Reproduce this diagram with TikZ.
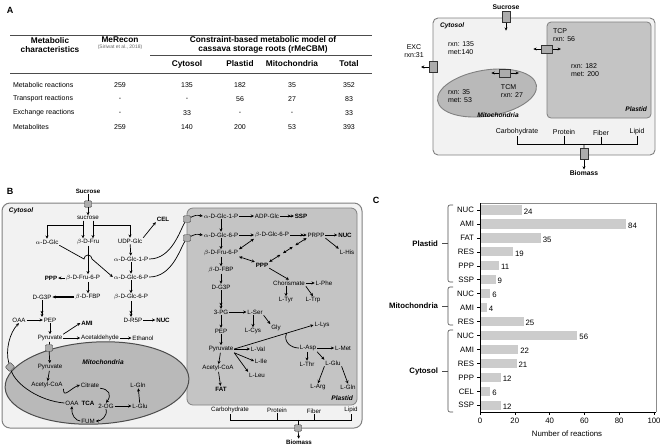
\documentclass[tikz,border=0pt]{standalone}
\usepackage{fontspec}
\setmainfont{Liberation Sans}
\usetikzlibrary{positioning, arrows.meta, shapes.geometric, calc}

\definecolor{cytfill}{HTML}{F2F2F2}
\definecolor{plafill}{HTML}{C4C4C4}
\definecolor{mitfill}{HTML}{B9B9B9}
\definecolor{edgegray}{HTML}{808080}
\definecolor{barfill}{HTML}{CCCCCC}

\begin{document}
\begin{tikzpicture}[x=1pt, y=-1pt]
		\tikzset{
			>={Stealth[length=3.2pt, width=3pt]},
			every node/.style={font=\fontsize{6.2}{7}\selectfont, inner sep=0.8pt},
			tab/.style={font=\fontsize{7}{8}\selectfont},
			tabhead/.style={font=\fontsize{8.3}{9.2}\selectfont\bfseries, align=center},
			modtxt/.style={font=\fontsize{7}{7.8}\selectfont, align=left},
			bold/.style={font=\fontsize{6.2}{7}\selectfont\bfseries},
			comp/.style={font=\fontsize{6.6}{7}\selectfont\bfseries\itshape},
			panel/.style={font=\fontsize{9}{10}\selectfont\bfseries},
			ctxt/.style={font=\fontsize{7.8}{9}\selectfont},
			rxn/.style={->, line width=0.7pt},
			multi/.style={-{Stealth[length=3pt, width=3pt] Stealth[length=3pt, width=3pt]}, line width=0.7pt},
			both/.style={<->, line width=0.7pt},
			tport/.style={draw=black!80, fill=gray!65, rounded corners=1pt, minimum width=7pt, minimum height=6.5pt, inner sep=0pt},
			cylv/.style={cylinder, shape border rotate=90, aspect=0.35, draw=black!80, fill=gray!65, minimum width=7.5pt, minimum height=11pt, inner sep=0pt},
			cylh/.style={cylinder, aspect=0.35, draw=black!80, fill=gray!65, minimum width=7.5pt, minimum height=11pt, inner sep=0pt}
		}
		\useasboundingbox (0,0) rectangle (660,445);
		
		% Panel A: table
		\node[panel] (labA) at (10,10) {A};
		\draw[line width=0.9pt, black!70] (10,35) -- (372,35);
		\node[tabhead] (hChar) at (50,45) {Metabolic\\characteristics};
		\node[tabhead] (hRecon) at (120,40) {MeRecon};
		\node[font=\fontsize{5}{6}\selectfont, text=black!60, below=0pt of hRecon] (hRef) {(Siriwat et al., 2018)};
		\node[tabhead] (hModel) at (263,45) {Constraint-based metabolic model of\\cassava storage roots (rMeCBM)};
		\draw[black!70] (150,55) -- (372,55);
		\node[tabhead] (hCyt) at (187,64) {Cytosol};
		\node[tabhead] (hPla) at (240,64) {Plastid};
		\node[tabhead] (hMit) at (292,64) {Mitochondria};
		\node[tabhead] (hTot) at (349,64) {Total};
		\draw[black!70] (10,73) -- (372,73);
		\foreach \y/\name/\a/\b/\c/\d/\e in {85/Metabolic reactions/259/135/182/35/352, 99/Transport reactions/-/-/56/27/83, 113/Exchange reactions/-/33/-/-/33, 127/Metabolites/259/140/200/53/393}{
			\node[tab, anchor=west] at (12,\y) {\name};
			\node[tab] at (120,\y) {\a};
			\node[tab] at (187,\y) {\b};
			\node[tab] at (240,\y) {\c};
			\node[tab] at (292,\y) {\d};
			\node[tab] at (349,\y) {\e};
		}
		
		% Panel A: compartment model
		\draw[rounded corners=5pt, draw=edgegray, fill=cytfill, line width=0.9pt] (433,18) rectangle (655,155);
		\draw[rounded corners=4pt, draw=edgegray, fill=plafill, line width=0.8pt] (547,22) rectangle (651,118);
		\draw[draw=edgegray, fill=mitfill, line width=0.9pt, rotate around={9:(487,93)}] (487,93) ellipse [x radius=50, y radius=23];
		\node[comp, anchor=west] (cytA) at (439,26) {Cytosol};
		\node[modtxt] (cytNum) at (461,48) {rxn: 135\\met:140};
		\node[modtxt, anchor=north west] (tcpA) at (552,28) {TCP\\rxn: 56};
		\node[modtxt] (plaNum) at (585,70) {rxn: 182\\met: 200};
		\node[comp, anchor=east] (plaA) at (648,109) {Plastid};
		\node[modtxt] (mitNum) at (460,96) {rxn: 35\\met: 53};
		\node[modtxt] (tcmA) at (512,91) {TCM\\rxn: 27};
		\node[comp] (mitA) at (498,115) {Mitochondria};
		\node[modtxt, align=center] (excA) at (414,51) {EXC\\rxn:31};
		
		% transporters
		\node[cylv] (tSucA) at (506,17) {};
		\node[bold, font=\fontsize{6.8}{7}\selectfont\bfseries, above=0.5pt of tSucA] (sucA) {Sucrose};
		\coordinate[below=8pt of tSucA] (sucAin);
		\draw[rxn] (tSucA) -- (sucAin);
		\node[cylh] (tTCP) at (547,49) {};
		\coordinate[left=8pt of tTCP] (tcpL);
		\coordinate[right=8pt of tTCP] (tcpR);
		\draw[rxn] (tTCP) -- (tcpL);
		\draw[rxn] (tTCP) -- (tcpR);
		\node[cylh] (tTCM) at (505,73) {};
		\coordinate[left=8pt of tTCM] (tcmL);
		\coordinate[right=8pt of tTCM] (tcmR);
		\draw[rxn] (tTCM) -- (tcmL);
		\draw[rxn] (tTCM) -- (tcmR);
		\node[cylv] (tEXC) at (433,67) {};
		\coordinate[left=8pt of tEXC] (excOut);
		\draw[rxn] (tEXC) -- (excOut);
		
		% biomass
		\node[modtxt] (carbA) at (517,132) {Carbohydrate};
		\node[modtxt] (protA) at (564,132) {Protein};
		\node[modtxt] (fibA) at (601,133) {Fiber};
		\node[modtxt] (lipA) at (637,132) {Lipid};
		\node[cylv] (tBioA) at (584,154) {};
		\node[bold, font=\fontsize{6.8}{7}\selectfont\bfseries] (bioA) at (584,173) {Biomass};
		\draw[line width=0.7pt] (carbA.south) -- ++(0,8) coordinate (brA) -| (lipA.south);
		\draw[line width=0.7pt] (protA.south) -- (protA.south |- brA);
		\draw[line width=0.7pt] (fibA.south) -- (fibA.south |- brA);
		\draw[line width=0.7pt] (brA -| tBioA) -- (tBioA);
		\draw[rxn] (tBioA) -- (bioA);
		
		% Panel B: compartments
		\node[panel] (labB) at (10,191) {B};
		\draw[rounded corners=8pt, draw=edgegray, fill=cytfill, line width=1pt] (2,203) rectangle (362,428);
		\draw[rounded corners=6pt, draw=edgegray, fill=plafill, line width=0.8pt] (187,208) rectangle (357,405);
		\draw[draw=gray!60!black, fill=mitfill, line width=1pt, rotate around={3:(97,383)}] (97,383) ellipse [x radius=92, y radius=41];
		\node[comp, anchor=west] (cytB) at (8,211) {Cytosol};
		\node[comp] (mitB) at (103,362) {Mitochondria};
		\node[comp, anchor=east] (plaB) at (354,398) {Plastid};
		
		% cytosol metabolites
		\node[bold] (sucB) at (88,191) {Sucrose};
		\node[tport] (tSuc) at (88,204) {};
		\node (suc) at (88,218) {sucrose};
		\node (glc) at (47,242) {$\alpha$-D-Glc};
		\node (fru) at (88,242) {$\beta$-D-Fru};
		\node (udpg) at (130,241) {UDP-Glc};
		\node[bold] (cel) at (163,219) {CEL};
		\node (g1p) at (131,259) {$\alpha$-D-Glc-1-P};
		\node (g6p) at (131,277) {$\alpha$-D-Glc-6-P};
		\node (f6p) at (83,278) {$\beta$-D-Fru-6-P};
		\node[bold] (pppC) at (51,278) {PPP};
		\node (fbp) at (88,297) {$\beta$-D-FBP};
		\node (g3p) at (42,297) {D-G3P};
		\node (bg6p) at (131,297) {$\beta$-D-Glc-6-P};
		\node (oaaC) at (19,320) {OAA};
		\node (pepC) at (50,320) {PEP};
		\node[bold] (amiC) at (87,323) {AMI};
		\node (r5p) at (133,320) {D-R5P};
		\node[bold] (nucC) at (163,320) {NUC};
		\node (pyrC) at (50,338) {Pyruvate};
		\node (acald) at (100,338) {Acetaldehyde};
		\node (etoh) at (143,338) {Ethanol};
		
		% mitochondria metabolites
		\node[tport] (tPyr) at (49,348) {};
		\node (pyrM) at (50,367) {Pyruvate};
		\node (accoaM) at (47,385) {Acetyl-CoA};
		\node (cit) at (90,385) {Citrate};
		\node (glnM) at (138,385) {L-Gln};
		\node (oaaM) at (72,403) {OAA};
		\node[bold] (tca) at (88,403) {TCA};
		\node (og) at (106,406) {2-OG};
		\node (gluM) at (140,406) {L-Glu};
		\node (fum) at (88,421) {FUM};
		\node[tport, rotate=45] (tOaa) at (10,367) {};
		
		% plastid metabolites
		\node[tport] (tG1p) at (187,219) {};
		\node[tport] (tG6p) at (187,238) {};
		\node (g1pP) at (221,216) {$\alpha$-D-Glc-1-P};
		\node (adpg) at (267,216) {ADP-Glc};
		\node[bold] (sspP) at (301,216) {SSP};
		\node (g6pP) at (221,235) {$\alpha$-D-Glc-6-P};
		\node (bg6pP) at (272,235) {$\beta$-D-Glc-6-P};
		\node (prpp) at (316,235) {PRPP};
		\node[bold] (nucP) at (345,235) {NUC};
		\node (f6pP) at (221,253) {$\beta$-D-Fru-6-P};
		\node[bold] (pppP) at (262,265) {PPP};
		\node (his) at (347,252) {L-His};
		\node (fbpP) at (221,270) {$\beta$-D-FBP};
		\node (chor) at (289,283) {Chorismate};
		\node (phe) at (324,283) {L-Phe};
		\node (g3pP) at (221,287) {D-G3P};
		\node (tyr) at (286,300) {L-Tyr};
		\node (trp) at (313,300) {L-Trp};
		\node (pg3) at (221,312) {3-PG};
		\node (ser) at (255,312) {L-Ser};
		\node (pepP) at (221,331) {PEP};
		\node (cys) at (253,331) {L-Cys};
		\node (gly) at (276,328) {Gly};
		\node (lys) at (322,325) {L-Lys};
		\node (pyrP) at (221,349) {Pyruvate};
		\node (val) at (258,349) {L-Val};
		\node (asp) at (308,348) {L-Asp};
		\node (met) at (343,348) {L-Met};
		\node (ile) at (261,361) {L-Ile};
		\node (thr) at (307,364) {L-Thr};
		\node (gluP) at (333,363) {L-Glu};
		\node (accoaP) at (218,368) {Acetyl-CoA};
		\node (leu) at (257,375) {L-Leu};
		\node[bold] (fat) at (221,389) {FAT};
		\node (arg) at (318,387) {L-Arg};
		\node (glnP) at (348,387) {L-Gln};
		
		% cytosol reactions
		\draw[line width=0.7pt] (sucB) -- (tSuc);
		\draw[rxn] (tSuc) -- (suc);
		\draw[rxn] ([xshift=-5pt]suc.south) -- ([xshift=-5pt]fru.north);
		\draw[rxn] ([xshift=-5pt]suc.south) -- ++(0,5) -| (glc.north);
		\draw[rxn] ([xshift=5pt]suc.south) -- ([xshift=5pt]fru.north);
		\draw[rxn] ([xshift=5pt]suc.south) -- ++(0,5) -| (udpg.north);
		\draw[rxn] (udpg.north east) -- (cel.south west);
		\draw[rxn] (udpg) -- (g1p);
		\draw[rxn] (g1p) -- (g6p);
		\draw[rxn] (g6p) -- (bg6p);
		\draw[multi] (bg6p.south) -- (bg6p.south |- r5p.north);
		\draw[rxn] (r5p) -- (nucC);
		\draw[rxn] (glc.south east) -- (84,259) arc[start angle=180, end angle=360, radius=4] -- (g6p.west);
		\draw[rxn] (fru.south) -- (fru.south |- f6p.north);
		\draw[rxn] (f6p) -- (pppC);
		\draw[rxn] (f6p.south -| fbp) -- (fbp);
		\draw[->, line width=1.3pt] (fbp) -- (g3p);
		\draw[multi] (g3p.south) -- (g3p.south |- pepC.north);
		\draw[rxn] (oaaC) -- (pepC);
		\draw[rxn] (pepC) -- (pyrC);
		\draw[rxn] (pyrC.north east) -- (amiC.west);
		\draw[rxn] (pyrC) -- (acald);
		\draw[rxn] (acald) -- (etoh);
		
		% transport into plastid
		\draw[line width=0.7pt] (g1p.east) .. controls (172,259) and (180,230) .. (tG1p);
		\draw[line width=0.7pt] (g6p.east) .. controls (172,277) and (180,249) .. (tG6p);
		\draw[rxn] (tG1p) .. controls (196,215) .. (g1pP.west);
		\draw[rxn] (tG6p) .. controls (196,234) .. (g6pP.west);
		
		% mitochondria reactions
		\draw[line width=0.7pt] (pyrC) -- (tPyr);
		\draw[rxn] (tPyr) -- (pyrM);
		\draw[rxn] (pyrM) -- (accoaM);
		\draw[rxn] (accoaM.south east) .. controls (63,399) and (71,388) .. (cit.west);
		\draw[rxn] (cit.south east) .. controls (109,389) and (112,395) .. (og.north);
		\draw[rxn] (og.south) .. controls (108,416) and (101,421) .. (fum.east);
		\draw[rxn] (fum.west) .. controls (76,421) and (71,415) .. (oaaM.south);
		\draw[rxn] (og) -- (gluM);
		\draw[rxn] (gluM) -- (glnM);
		\draw[line width=0.7pt] (oaaM.west) .. controls (40,401) and (16,385) .. (tOaa);
		\draw[rxn] (tOaa) .. controls (5,350) and (10,332) .. (oaaC.south);
		
		% plastid reactions
		\draw[rxn] (g1pP) -- (adpg);
		\draw[multi] (adpg) -- (sspP);
		\draw[rxn] (g1pP) -- (g6pP);
		\draw[rxn] (g6pP) -- (bg6pP);
		\draw[multi] (bg6pP) -- (prpp);
		\draw[rxn] (prpp) -- (nucP);
		\draw[rxn] (g6pP) -- (f6pP);
		\draw[both] (f6pP.north east) -- (bg6pP.south west);
		\draw[both] (f6pP.south east) -- (pppP.north west);
		\coordinate (pp1) at ($(pppP.north east)!0.30!(prpp.south west)$);
		\coordinate (pp2) at ($(pppP.north east)!0.37!(prpp.south west)$);
		\coordinate (pp3) at ($(pppP.north east)!0.63!(prpp.south west)$);
		\coordinate (pp4) at ($(pppP.north east)!0.70!(prpp.south west)$);
		\draw[both] (pppP.north east) -- (pp1);
		\draw[both] (pp2) -- (pp3);
		\draw[both] (pp4) -- (prpp.south west);
		\draw[rxn] (prpp.south east) -- (his.north west);
		\draw[rxn] (pppP.south east) -- (chor.north);
		\draw[rxn] (chor) -- (phe);
		\draw[rxn] (chor.south -| tyr) -- (tyr);
		\draw[rxn] (chor.south east) -- (trp.north);
		\draw[rxn] (f6pP) -- (fbpP);
		\draw[rxn] (fbpP) -- (g3pP);
		\draw[multi] (g3pP) -- (pg3);
		\draw[rxn] (pg3) -- (ser);
		\draw[rxn] (ser.south -| cys) -- (cys);
		\draw[rxn] (ser.south east) -- (gly.north west);
		\draw[rxn] (pg3) -- (pepP);
		\draw[rxn] (pepP) -- (pyrP);
		\draw[rxn] (pyrP.east) -- (lys.west);
		\path (pyrP.east) -- (lys.west) coordinate[pos=0.66] (lysBr);
		\draw[line width=0.7pt] (lysBr) .. controls (283,342) and (291,348) .. (asp.west);
		\draw[rxn] (pyrP) -- (val);
		\draw[rxn] (pyrP.south east) -- (ile.west);
		\draw[rxn] (pyrP.south east) -- (leu.north west);
		\draw[rxn] (pyrP) -- (accoaP);
		\draw[rxn] (accoaP) -- (fat);
		\draw[rxn] (asp) -- (met);
		\draw[rxn] (asp.south -| thr) -- (thr);
		\draw[rxn] (asp.south east) -- (gluP.north west);
		\draw[rxn] (gluP.south west) -- (arg.north);
		\draw[rxn] (gluP.south east) -- (glnP.north);
		
		% biomass
		\node (carbB) at (230,410) {Carbohydrate};
		\node (protB) at (277,410) {Protein};
		\node (fibB) at (314,411) {Fiber};
		\node (lipB) at (351,410) {Lipid};
		\node[tport] (tBio) at (298,428) {};
		\node[bold] (bioB) at (299,442) {Biomass};
		\draw[line width=0.7pt] (carbB.south) -- ++(0,6) coordinate (brB) -| (lipB.south);
		\draw[line width=0.7pt] (protB.south) -- (protB.south |- brB);
		\draw[line width=0.7pt] (fibB.south) -- (fibB.south |- brB);
		\draw[line width=0.7pt] (brB -| tBio) -- (tBio);
		\draw[rxn] (tBio) -- (bioB);
		
		% Panel C: bar chart
		\node[panel] (labC) at (376,200) {C};
		\draw[black!45] (480,203) -- (656,203) -- (656,412);
		\foreach \i/\cat/\val in {0/NUC/24, 1/AMI/84, 2/FAT/35, 3/RES/19, 4/PPP/11, 5/SSP/9, 6/NUC/6, 7/AMI/4, 8/RES/25, 9/NUC/56, 10/AMI/22, 11/RES/21, 12/PPP/12, 13/CEL/6, 14/SSP/12}{
			\pgfmathsetmacro{\yb}{210+13.95*\i}
			\fill[barfill] (480,\yb-4.6) rectangle ({480+1.74*\val},\yb+4.6);
			\draw[line width=0.6pt] (480,\yb) -- (477,\yb);
			\node[ctxt, anchor=east] at (475,\yb) {\cat};
			\node[ctxt, anchor=west] at ({481+1.74*\val},\yb+1.5) {\val};
		}
		\draw[line width=0.8pt] (480,203) -- (480,412) -- (656,412);
		\foreach \t in {0,20,...,100}{
			\draw[line width=0.6pt] (480+1.74*\t,412) -- (480+1.74*\t,415);
			\node[ctxt] at (480+1.74*\t,421) {\t};
		}
		\node[ctxt] (xlab) at (567,434) {Number of reactions};
		
		% group braces
		\foreach \ya/\yc/\grp in {205/282/Plastid, 287/325/Mitochondria, 330/412/Cytosol}{
			\draw[black!70, line width=0.6pt, rounded corners=2pt] (453,\ya) -- (448,\ya) -- (448,\yc) -- (453,\yc);
			\draw[black!70, line width=0.6pt] (448,{(\ya+\yc)/2}) -- (442,{(\ya+\yc)/2});
			\node[ctxt, font=\fontsize{7.8}{9}\selectfont\bfseries, anchor=east] at (439,{(\ya+\yc)/2}) {\grp};
		}
		
	\end{tikzpicture}
\end{document}
